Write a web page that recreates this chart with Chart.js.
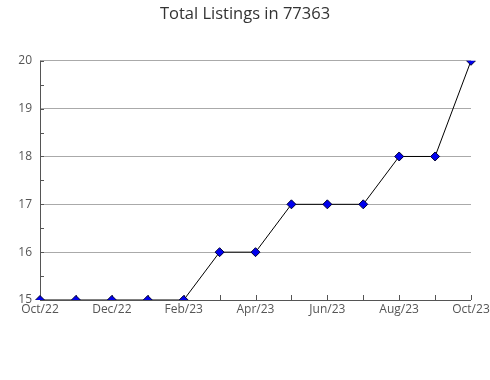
<!DOCTYPE html>
<html><head><meta charset="utf-8">
<script src="https://cdn.jsdelivr.net/npm/chart.js@4/dist/chart.umd.min.js"></script>
<style>html,body{margin:0;padding:0;background:#fff}#wrap{width:490px;height:380px}</style>
</head><body><div id="wrap"><canvas id="c" width="490" height="380"></canvas></div>
<script>
const titleText = "Total Listings in 77363";
const months = ["Oct/22","Nov/22","Dec/22","Jan/23","Feb/23","Mar/23","Apr/23","May/23","Jun/23","Jul/23","Aug/23","Sep/23","Oct/23"];
const listings = [15,15,15,15,15,16,16,17,17,17,18,18,20];
const yMin = 15, yMax = 20;

const tickPlugin = {
  id: 'innerTicks',
  beforeDatasetsDraw(chart) {
    const ctx = chart.ctx, x = chart.scales.x, y = chart.scales.y, a = chart.chartArea;
    ctx.save();
    ctx.strokeStyle = '#555';
    ctx.lineWidth = 1;
    ctx.beginPath();
    for (let i = 0; i < months.length; i++) {
      const px = Math.round(x.getPixelForValue(i)) + 0.5;
      ctx.moveTo(px, a.bottom); ctx.lineTo(px, a.bottom - 5);
    }
    for (let v = yMin; v <= yMax; v += 0.5) {
      const py = Math.round(y.getPixelForValue(v)) + 0.5;
      ctx.moveTo(a.left, py); ctx.lineTo(a.left + 4, py);
    }
    ctx.stroke();
    ctx.beginPath();
    ctx.moveTo(Math.round(a.left) + 0.5, a.top);
    ctx.lineTo(Math.round(a.left) + 0.5, a.bottom);
    ctx.moveTo(a.left, Math.round(a.bottom) + 0.5);
    ctx.lineTo(a.right, Math.round(a.bottom) + 0.5);
    ctx.stroke();
    ctx.restore();
  }
};

new Chart(document.getElementById('c'), {
  type: 'line',
  data: {
    labels: months,
    datasets: [{
      data: listings,
      borderColor: '#000',
      borderWidth: 1,
      tension: 0,
      pointStyle: 'rectRot',
      pointRadius: 4.5,
      pointBackgroundColor: '#0000ee',
      pointBorderColor: '#000033',
      pointBorderWidth: 1
    }]
  },
  options: {
    responsive: false,
    animation: false,
    devicePixelRatio: 1,
    layout: { padding: { left: 0, right: 0, top: 0, bottom: 55 } },
    plugins: {
      legend: { display: false },
      tooltip: { enabled: false },
      title: {
        display: true, text: titleText, color: '#333',
        font: { family: "'Open Sans'", size: 16.5, weight: 'normal' },
        padding: { top: 4, bottom: 37 }
      }
    },
    scales: {
      x: {
        offset: false,
        grid: { display: false, drawTicks: false },
        border: { display: false },
        ticks: {
          autoSkip: false, maxRotation: 0, padding: 2,
          color: '#555', font: { family: "'Open Sans'", size: 12 },
          callback: function(v, i) { return i % 2 === 0 ? months[i] : ''; }
        },
        afterFit(s) { s.height = 25; s.paddingRight = 19; s.paddingLeft = 0; }
      },
      y: {
        min: yMin, max: yMax,
        grid: { color: '#aaa', drawTicks: false, lineWidth: 1 },
        border: { display: false },
        ticks: {
          stepSize: 1, padding: 8,
          color: '#555', font: { family: "'Open Sans'", size: 12 }
        },
        afterFit(s) { s.width = 40; }
      }
    }
  },
  plugins: [tickPlugin]
});
</script></body></html>
